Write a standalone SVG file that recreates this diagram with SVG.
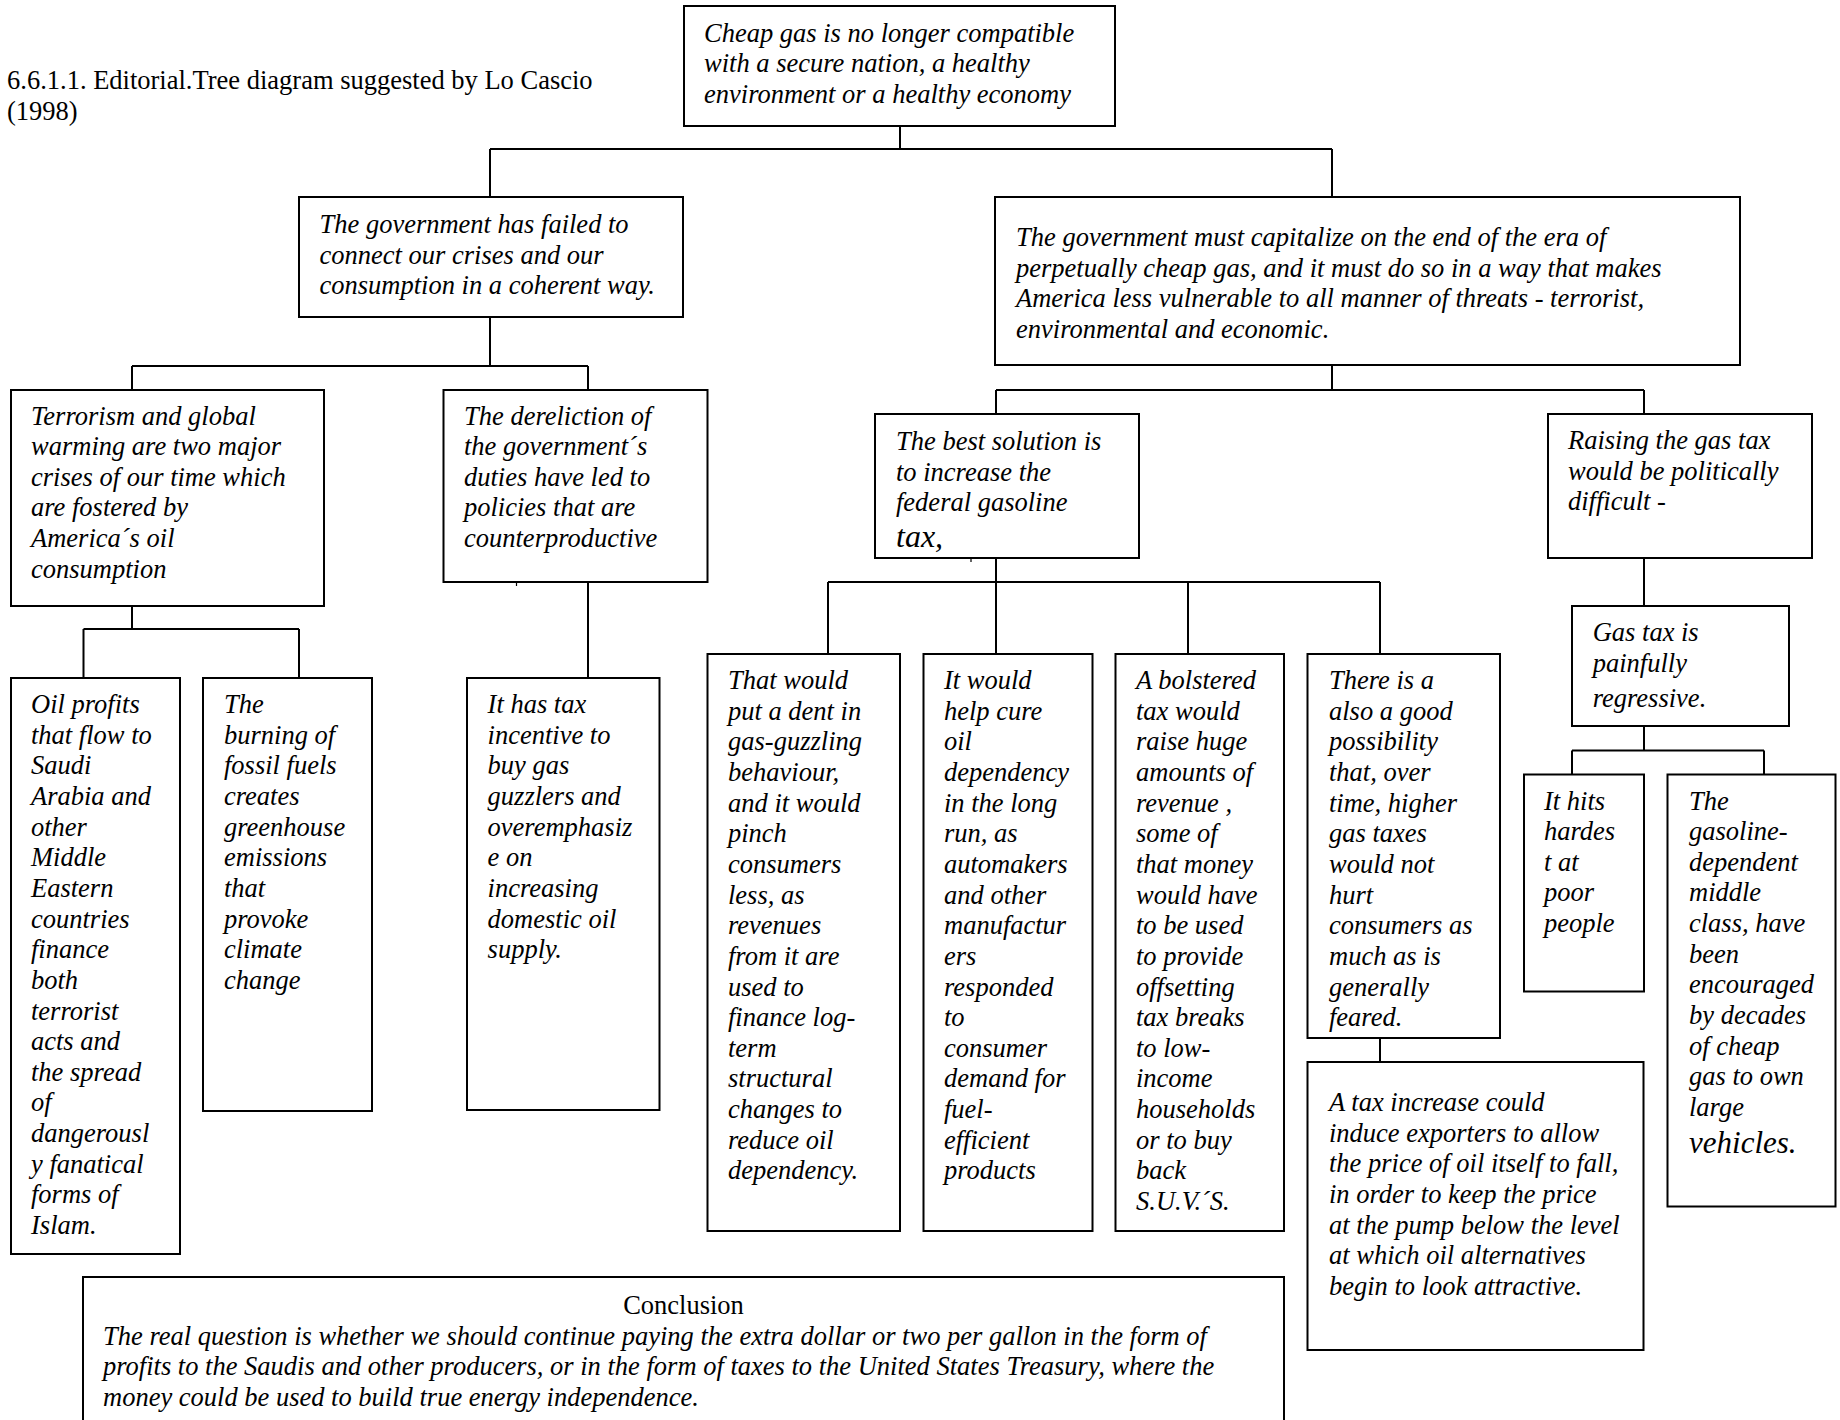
<svg xmlns="http://www.w3.org/2000/svg" width="1840" height="1420" viewBox="0 0 1840 1420">
<style>
.box{fill:#fff;stroke:#000;stroke-width:2}
.c{stroke:#000;stroke-width:2;fill:none}
.t{font-family:"Liberation Serif","Times New Roman",serif;font-size:26.5px;font-style:italic;fill:#000}
.r{font-family:"Liberation Serif","Times New Roman",serif;font-size:26.5px;fill:#000}
</style>
<rect width="1840" height="1420" fill="#fff"/>
<text class="r" x="7" y="89">6.6.1.1. Editorial.Tree diagram suggested by Lo Cascio</text>
<text class="r" x="7" y="120">(1998)</text>

<g id="connectors">
<path class="c" d="M900 126V149M490 149H1332M490 149V197M1332 149V197"/>
<path class="c" d="M490 317V366M132 366H588M132 366V390M588 366V390"/>
<path class="c" d="M132 606V629M83.5 629H299M83.5 629V678M299 629V678"/>
<path class="c" d="M588 582V678"/>
<path class="c" d="M1332 365V390M996 390H1644M996 390V414M1644 390V414"/>
<path class="c" d="M996 558V582M828 582H1380M828 582V654M996 582V654M1188 582V654M1380 582V654"/>
<path class="c" d="M1380 1038V1062"/>
<path class="c" d="M1644 558V606"/>
<path class="c" d="M1644 726V750.5M1572 750.5H1764M1572 750.5V774.5M1764 750.5V774.5"/>
</g>
<g id="marks">
<path d="M516.5 582V586M971 558V562" stroke="#000" stroke-width="1.2"/>
<circle cx="1333" cy="222" r="1.3" fill="#000"/>
</g>

<g id="root">
<rect class="box" x="684" y="6" width="431" height="120"/>
<text class="t"><tspan x="704" y="41.5">Cheap gas is no longer compatible</tspan><tspan x="704" y="72.1">with a secure nation, a healthy</tspan><tspan x="704" y="102.7">environment or a healthy economy</tspan></text>
</g>

<g id="failed">
<rect class="box" x="299" y="197" width="384" height="120"/>
<text class="t"><tspan x="319.5" y="233">The government has failed to</tspan><tspan x="319.5" y="263.65">connect our crises and our</tspan><tspan x="319.5" y="294.3">consumption in a coherent way.</tspan></text>
</g>

<g id="capitalize">
<rect class="box" x="995" y="197" width="745" height="168"/>
<text class="t"><tspan x="1016" y="246">The government must capitalize on the end of the era of</tspan><tspan x="1016" y="276.65">perpetually cheap gas, and it must do so in a way that makes</tspan><tspan x="1016" y="307.3">America less vulnerable to all manner of threats - terrorist,</tspan><tspan x="1016" y="337.95">environmental and economic.</tspan></text>
</g>

<g id="terrorism">
<rect class="box" x="11" y="390" width="313" height="216"/>
<text class="t"><tspan x="31" y="424.5">Terrorism and global</tspan><tspan x="31" y="455.15">warming are two major</tspan><tspan x="31" y="485.8">crises of our time which</tspan><tspan x="31" y="516.45">are fostered by</tspan><tspan x="31" y="547.1">America´s oil</tspan><tspan x="31" y="577.75">consumption</tspan></text>
</g>

<g id="dereliction">
<rect class="box" x="443.5" y="390" width="264" height="192"/>
<text class="t"><tspan x="464" y="424.5">The dereliction of</tspan><tspan x="464" y="455.15">the government´s</tspan><tspan x="464" y="485.8">duties have led to</tspan><tspan x="464" y="516.45">policies that are</tspan><tspan x="464" y="547.1">counterproductive</tspan></text>
</g>

<g id="best">
<rect class="box" x="875" y="414" width="264" height="144"/>
<text class="t"><tspan x="896" y="450">The best solution is</tspan><tspan x="896" y="480.65">to increase the</tspan><tspan x="896" y="511.3">federal gasoline</tspan><tspan x="896" y="546.5" style="font-size:32px">tax,</tspan></text>
</g>

<g id="raising">
<rect class="box" x="1548" y="414" width="264" height="144"/>
<text class="t"><tspan x="1568" y="449">Raising the gas tax</tspan><tspan x="1568" y="479.65">would be politically</tspan><tspan x="1568" y="510.3">difficult -</tspan></text>
</g>

<g id="oil">
<rect class="box" x="11" y="678" width="169" height="576"/>
<text class="t"><tspan x="31" y="713">Oil profits</tspan><tspan x="31" y="743.65">that flow to</tspan><tspan x="31" y="774.3">Saudi</tspan><tspan x="31" y="804.95">Arabia and</tspan><tspan x="31" y="835.6">other</tspan><tspan x="31" y="866.25">Middle</tspan><tspan x="31" y="896.9">Eastern</tspan><tspan x="31" y="927.55">countries</tspan><tspan x="31" y="958.2">finance</tspan><tspan x="31" y="988.85">both</tspan><tspan x="31" y="1019.5">terrorist</tspan><tspan x="31" y="1050.15">acts and</tspan><tspan x="31" y="1080.8">the spread</tspan><tspan x="31" y="1111.45">of</tspan><tspan x="31" y="1142.1">dangerousl</tspan><tspan x="31" y="1172.75">y fanatical</tspan><tspan x="31" y="1203.4">forms of</tspan><tspan x="31" y="1234.05">Islam.</tspan></text>
</g>

<g id="burning">
<rect class="box" x="203" y="678" width="169" height="433"/>
<text class="t"><tspan x="224" y="713">The</tspan><tspan x="224" y="743.65">burning of</tspan><tspan x="224" y="774.3">fossil fuels</tspan><tspan x="224" y="804.95">creates</tspan><tspan x="224" y="835.6">greenhouse</tspan><tspan x="224" y="866.25">emissions</tspan><tspan x="224" y="896.9">that</tspan><tspan x="224" y="927.55">provoke</tspan><tspan x="224" y="958.2">climate</tspan><tspan x="224" y="988.85">change</tspan></text>
</g>

<g id="incentive">
<rect class="box" x="467" y="678" width="192.5" height="432"/>
<text class="t"><tspan x="487.6" y="713">It has tax</tspan><tspan x="487.6" y="743.65">incentive to</tspan><tspan x="487.6" y="774.3">buy gas</tspan><tspan x="487.6" y="804.95">guzzlers and</tspan><tspan x="487.6" y="835.6">overemphasiz</tspan><tspan x="487.6" y="866.25">e on</tspan><tspan x="487.6" y="896.9">increasing</tspan><tspan x="487.6" y="927.55">domestic oil</tspan><tspan x="487.6" y="958.2">supply.</tspan></text>
</g>

<g id="dent">
<rect class="box" x="707.5" y="654" width="192.5" height="577"/>
<text class="t"><tspan x="728" y="689">That would</tspan><tspan x="728" y="719.65">put a dent in</tspan><tspan x="728" y="750.3">gas-guzzling</tspan><tspan x="728" y="780.95">behaviour,</tspan><tspan x="728" y="811.6">and it would</tspan><tspan x="728" y="842.25">pinch</tspan><tspan x="728" y="872.9">consumers</tspan><tspan x="728" y="903.55">less, as</tspan><tspan x="728" y="934.2">revenues</tspan><tspan x="728" y="964.85">from it are</tspan><tspan x="728" y="995.5">used to</tspan><tspan x="728" y="1026.15">finance log-</tspan><tspan x="728" y="1056.8">term</tspan><tspan x="728" y="1087.45">structural</tspan><tspan x="728" y="1118.1">changes to</tspan><tspan x="728" y="1148.75">reduce oil</tspan><tspan x="728" y="1179.4">dependency.</tspan></text>
</g>

<g id="cure">
<rect class="box" x="923.5" y="654" width="169" height="577"/>
<text class="t"><tspan x="944" y="689">It would</tspan><tspan x="944" y="719.65">help cure</tspan><tspan x="944" y="750.3">oil</tspan><tspan x="944" y="780.95">dependency</tspan><tspan x="944" y="811.6">in the long</tspan><tspan x="944" y="842.25">run, as</tspan><tspan x="944" y="872.9">automakers</tspan><tspan x="944" y="903.55">and other</tspan><tspan x="944" y="934.2">manufactur</tspan><tspan x="944" y="964.85">ers</tspan><tspan x="944" y="995.5">responded</tspan><tspan x="944" y="1026.15">to</tspan><tspan x="944" y="1056.8">consumer</tspan><tspan x="944" y="1087.45">demand for</tspan><tspan x="944" y="1118.1">fuel-</tspan><tspan x="944" y="1148.75">efficient</tspan><tspan x="944" y="1179.4">products</tspan></text>
</g>

<g id="bolstered">
<rect class="box" x="1115.5" y="654" width="168.5" height="577"/>
<text class="t"><tspan x="1136" y="689">A bolstered</tspan><tspan x="1136" y="719.65">tax would</tspan><tspan x="1136" y="750.3">raise huge</tspan><tspan x="1136" y="780.95">amounts of</tspan><tspan x="1136" y="811.6">revenue ,</tspan><tspan x="1136" y="842.25">some of</tspan><tspan x="1136" y="872.9">that money</tspan><tspan x="1136" y="903.55">would have</tspan><tspan x="1136" y="934.2">to be used</tspan><tspan x="1136" y="964.85">to provide</tspan><tspan x="1136" y="995.5">offsetting</tspan><tspan x="1136" y="1026.15">tax breaks</tspan><tspan x="1136" y="1056.8">to low-</tspan><tspan x="1136" y="1087.45">income</tspan><tspan x="1136" y="1118.1">households</tspan><tspan x="1136" y="1148.75">or to buy</tspan><tspan x="1136" y="1179.4">back</tspan><tspan x="1136" y="1210.05">S.U.V.´S.</tspan></text>
</g>

<g id="possibility">
<rect class="box" x="1307.5" y="654" width="192.5" height="384"/>
<text class="t"><tspan x="1329" y="689">There is a</tspan><tspan x="1329" y="719.65">also a good</tspan><tspan x="1329" y="750.3">possibility</tspan><tspan x="1329" y="780.95">that, over</tspan><tspan x="1329" y="811.6">time, higher</tspan><tspan x="1329" y="842.25">gas taxes</tspan><tspan x="1329" y="872.9">would not</tspan><tspan x="1329" y="903.55">hurt</tspan><tspan x="1329" y="934.2">consumers as</tspan><tspan x="1329" y="964.85">much as is</tspan><tspan x="1329" y="995.5">generally</tspan><tspan x="1329" y="1026.15">feared.</tspan></text>
</g>

<g id="exporters">
<rect class="box" x="1307.5" y="1062" width="336" height="288"/>
<text class="t"><tspan x="1329" y="1111">A tax increase could</tspan><tspan x="1329" y="1141.65">induce exporters to allow</tspan><tspan x="1329" y="1172.3">the price of oil itself to fall,</tspan><tspan x="1329" y="1202.95">in order to keep the price</tspan><tspan x="1329" y="1233.6">at the pump below the level</tspan><tspan x="1329" y="1264.25">at which oil alternatives</tspan><tspan x="1329" y="1294.9">begin to look attractive.</tspan></text>
</g>

<g id="regressive">
<rect class="box" x="1572" y="606" width="217" height="120"/>
<text class="t"><tspan x="1592.7" y="641">Gas tax is</tspan><tspan x="1592.7" y="671.65">painfully</tspan><tspan x="1592.7" y="707">regressive.</tspan></text>
</g>

<g id="poor">
<rect class="box" x="1524" y="774.5" width="120" height="217"/>
<text class="t"><tspan x="1544" y="809.5">It hits</tspan><tspan x="1544" y="840.15">hardes</tspan><tspan x="1544" y="870.8">t at</tspan><tspan x="1544" y="901.45">poor</tspan><tspan x="1544" y="932.1">people</tspan></text>
</g>

<g id="middleclass">
<rect class="box" x="1667.5" y="774.5" width="168" height="432"/>
<text class="t"><tspan x="1689" y="809.5">The</tspan><tspan x="1689" y="840.15">gasoline-</tspan><tspan x="1689" y="870.8">dependent</tspan><tspan x="1689" y="901.45">middle</tspan><tspan x="1689" y="932.1">class, have</tspan><tspan x="1689" y="962.75">been</tspan><tspan x="1689" y="993.4">encouraged</tspan><tspan x="1689" y="1024.05">by decades</tspan><tspan x="1689" y="1054.7">of cheap</tspan><tspan x="1689" y="1085.35">gas to own</tspan><tspan x="1689" y="1116">large</tspan><tspan x="1689" y="1152.5" style="font-size:31px">vehicles.</tspan></text>
</g>

<g id="conclusion">
<rect class="box" x="83" y="1277" width="1201" height="160"/>
<text class="r" x="683.5" y="1314" text-anchor="middle">Conclusion</text>
<text class="t"><tspan x="103" y="1344.5">The real question is whether we should continue paying the extra dollar or two per gallon in the form of</tspan><tspan x="103" y="1375">profits to the Saudis and other producers, or in the form of taxes to the United States Treasury, where the</tspan><tspan x="103" y="1405.5">money could be used to build true energy independence.</tspan></text>
</g>
</svg>
